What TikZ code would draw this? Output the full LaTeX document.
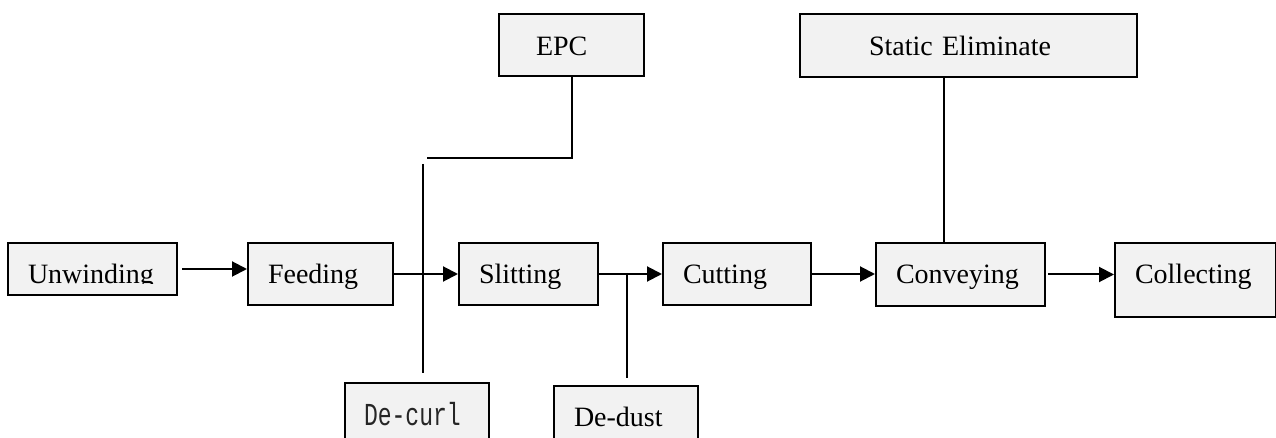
\documentclass[tikz,border=0pt]{standalone}
\usepackage{fontspec}
\setmainfont{Liberation Serif}
\newfontfamily\curlfont[FakeStretch=0.72]{Liberation Mono}
\usepackage{tikz}
\usetikzlibrary{arrows.meta}
\definecolor{boxfill}{HTML}{F2F2F2}

\begin{document}
\begin{tikzpicture}[x=0.5pt,y=-0.5pt]
		\tikzset{> = {Triangle[length=7.5pt,width=7.5pt]},
			stage/.style = {draw, fill = boxfill, line width = 1pt, anchor = north west, inner xsep = 10pt, inner ysep = 0pt, align = left, font = \fontsize{14pt}{16pt}\selectfont, text height = 20.5pt},
			flow/.style = {->, line width = 1pt}}
		\useasboundingbox (0,0) rectangle (1276,438);
		\clip (0,0) rectangle (1276,438);
		% main line
		\node[stage, text width = 64.5pt, text depth = 5.5pt] (unw) at (7,242) {Unwinding};
		\fill[boxfill] ([xshift=1pt]unw.base -| unw.west) rectangle ([xshift=-1pt,yshift=1pt]unw.south east);
		\node[stage, text width = 52.5pt, text depth = 10.5pt] (feed) at (247,242) {Feeding};
		\node[stage, text width = 49.5pt, text depth = 10.5pt] (slit) at (458,242) {Slitting};
		\node[stage, text width = 54pt, text depth = 10.5pt] (cut) at (662,242) {Cutting};
		\node[stage, text width = 64.5pt, text depth = 11pt] (conv) at (875,242) {Conveying};
		\node[stage, text width = 60.5pt, text depth = 16.5pt] (coll) at (1114,242) {Collecting};
		% side units
		\node[stage, inner xsep = 18.5pt, text width = 35.5pt, text height = 21pt, text depth = 10pt] (epc) at (498,13) {EPC};
		\node[stage, inner xsep = 34.5pt, text width = 99.5pt, text height = 21pt, text depth = 10.5pt] (stat) at (799,13) {Static Eliminate};
		\node[stage, inner xsep = 9.5pt, text width = 53pt, text height = 21.5pt, text depth = 18.5pt, font = \curlfont\fontsize{16pt}{18pt}\selectfont, text = black!85] (dcurl) at (344,382) {De-curl};
		\node[stage, text width = 52pt, text height = 20.5pt, text depth = 19.5pt] (ddust) at (553,385) {De-dust};
		% arrows
		\draw[flow, shorten <= 2pt] (unw.east) -- (unw.east -| feed.west);
		\draw[flow] (feed.east) -- (feed.east -| slit.west);
		\draw[flow] (slit.east) -- (slit.east -| cut.west);
		\draw[flow] (cut.east) -- (cut.east -| conv.west);
		\draw[flow, shorten <= 1pt] (conv.east) -- (conv.east -| coll.west);
		% branches
		\coordinate (epcend) at (427,158);
		\coordinate (dctop) at (423,164);
		\coordinate (ddjoin) at (627,273);
		\coordinate (statx) at (944,0);
		\draw[line width = 1pt] (epc.south) |- (epcend);
		\draw[line width = 1pt] (dctop) -- ([yshift=4.5pt]dcurl.north -| dctop);
		\draw[line width = 1pt] (ddjoin) -- ([yshift=3.5pt]ddust.north -| ddjoin);
		\draw[line width = 1pt] (stat.south -| statx) -- (conv.north -| statx);
	\end{tikzpicture}
\end{document}
